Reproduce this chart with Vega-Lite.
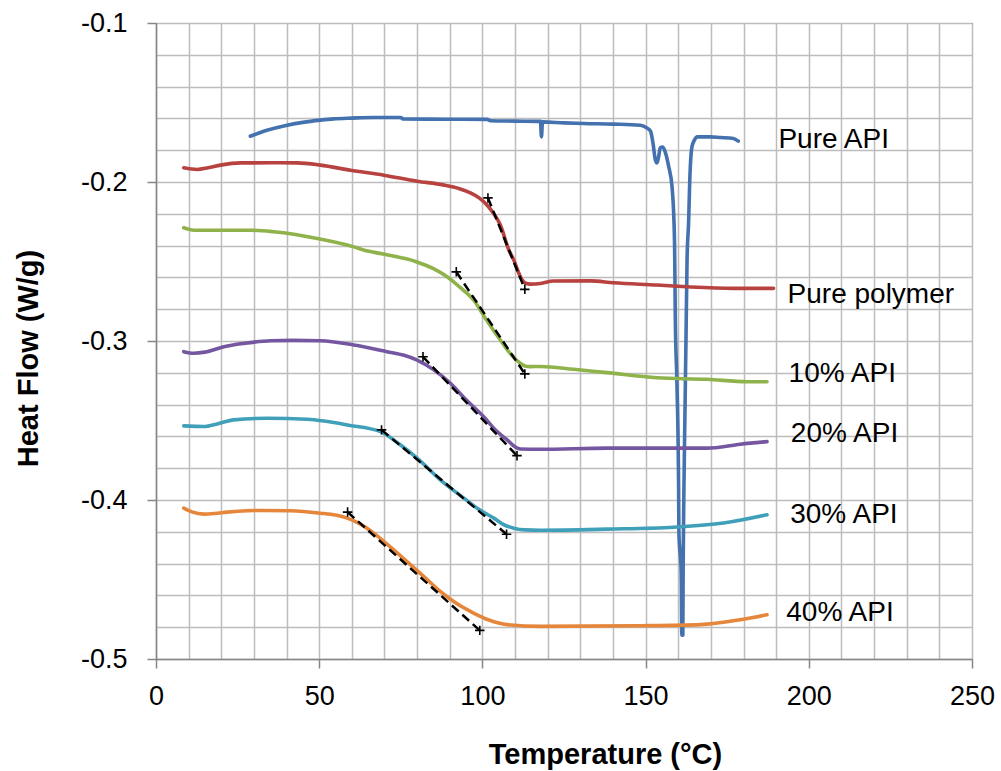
{
  "$schema": "https://vega.github.io/schema/vega-lite/v6.json",
  "autosize": {"type": "none"},
  "padding": {"left": 156, "top": 23, "right": 29, "bottom": 112},
  "width": 816,
  "height": 636,
  "background": "white",
  "config": {
    "font": "Liberation Sans",
    "view": {"stroke": "#000000", "strokeWidth": 1}
  },
  "datasets": {
    "curves": [
      {"series":"Pure API","temp":28.9,"flow":-0.1712},{"series":"Pure API","temp":34,"flow":-0.1675},{"series":"Pure API","temp":40.2,"flow":-0.1643},{"series":"Pure API","temp":45,"flow":-0.1625},{"series":"Pure API","temp":50.4,"flow":-0.1611},{"series":"Pure API","temp":54.4,"flow":-0.1603},{"series":"Pure API","temp":60,"flow":-0.1598},{"series":"Pure API","temp":66.6,"flow":-0.1594},{"series":"Pure API","temp":74.9,"flow":-0.1594},{"series":"Pure API","temp":75.8,"flow":-0.1604},{"series":"Pure API","temp":90,"flow":-0.1605},{"series":"Pure API","temp":101.5,"flow":-0.1606},{"series":"Pure API","temp":102.4,"flow":-0.1615},{"series":"Pure API","temp":110,"flow":-0.1617},{"series":"Pure API","temp":117.8,"flow":-0.1619},{"series":"Pure API","temp":118.1,"flow":-0.1716},{"series":"Pure API","temp":118.4,"flow":-0.1622},{"series":"Pure API","temp":125,"flow":-0.1628},{"series":"Pure API","temp":131.1,"flow":-0.1632},{"series":"Pure API","temp":140,"flow":-0.1636},{"series":"Pure API","temp":148.4,"flow":-0.1643},{"series":"Pure API","temp":150.4,"flow":-0.166},{"series":"Pure API","temp":151.5,"flow":-0.168},{"series":"Pure API","temp":152.3,"flow":-0.176},{"series":"Pure API","temp":153.0,"flow":-0.1862},{"series":"Pure API","temp":153.5,"flow":-0.188},{"series":"Pure API","temp":154.0,"flow":-0.184},{"series":"Pure API","temp":154.5,"flow":-0.1785},{"series":"Pure API","temp":155.2,"flow":-0.178},{"series":"Pure API","temp":156.0,"flow":-0.181},{"series":"Pure API","temp":157.1,"flow":-0.1905},{"series":"Pure API","temp":158.1,"flow":-0.203},{"series":"Pure API","temp":158.6,"flow":-0.2198},{"series":"Pure API","temp":158.9,"flow":-0.2428},{"series":"Pure API","temp":159.1,"flow":-0.2847},{"series":"Pure API","temp":159.6,"flow":-0.3266},{"series":"Pure API","temp":160.1,"flow":-0.3894},{"series":"Pure API","temp":160.2,"flow":-0.42},{"series":"Pure API","temp":160.9,"flow":-0.445},{"series":"Pure API","temp":161.1,"flow":-0.485},{"series":"Pure API","temp":161.4,"flow":-0.485},{"series":"Pure API","temp":161.5,"flow":-0.445},{"series":"Pure API","temp":161.7,"flow":-0.40},{"series":"Pure API","temp":161.9,"flow":-0.3684},{"series":"Pure API","temp":162.4,"flow":-0.295},{"series":"Pure API","temp":162.7,"flow":-0.2491},{"series":"Pure API","temp":163.2,"flow":-0.224},{"series":"Pure API","temp":163.5,"flow":-0.2009},{"series":"Pure API","temp":164.2,"flow":-0.1779},{"series":"Pure API","temp":165.0,"flow":-0.1735},{"series":"Pure API","temp":165.8,"flow":-0.1716},{"series":"Pure API","temp":169.8,"flow":-0.1716},{"series":"Pure API","temp":172.9,"flow":-0.172},{"series":"Pure API","temp":176.9,"flow":-0.1726},{"series":"Pure API","temp":178.4,"flow":-0.1743},
      {"series":"Pure polymer","temp":8.5,"flow":-0.1911},{"series":"Pure polymer","temp":12.6,"flow":-0.1921},{"series":"Pure polymer","temp":16,"flow":-0.191},{"series":"Pure polymer","temp":19.8,"flow":-0.1894},{"series":"Pure polymer","temp":25.9,"flow":-0.188},{"series":"Pure polymer","temp":35,"flow":-0.1879},{"series":"Pure polymer","temp":43.2,"flow":-0.188},{"series":"Pure polymer","temp":50.4,"flow":-0.1894},{"series":"Pure polymer","temp":59.6,"flow":-0.1926},{"series":"Pure polymer","temp":69.8,"flow":-0.1957},{"series":"Pure polymer","temp":80.0,"flow":-0.1995},{"series":"Pure polymer","temp":88,"flow":-0.2018},{"series":"Pure polymer","temp":93,"flow":-0.2042},{"series":"Pure polymer","temp":96.3,"flow":-0.2068},{"series":"Pure polymer","temp":99,"flow":-0.21},{"series":"Pure polymer","temp":101.4,"flow":-0.2145},{"series":"Pure polymer","temp":103.5,"flow":-0.22},{"series":"Pure polymer","temp":105.5,"flow":-0.227},{"series":"Pure polymer","temp":108.1,"flow":-0.2428},{"series":"Pure polymer","temp":109.6,"flow":-0.249},{"series":"Pure polymer","temp":111,"flow":-0.2565},{"series":"Pure polymer","temp":112.2,"flow":-0.2617},{"series":"Pure polymer","temp":113.3,"flow":-0.2637},{"series":"Pure polymer","temp":114.7,"flow":-0.2642},{"series":"Pure polymer","temp":117.8,"flow":-0.2638},{"series":"Pure polymer","temp":121.8,"flow":-0.2623},{"series":"Pure polymer","temp":133.1,"flow":-0.2622},{"series":"Pure polymer","temp":140.1,"flow":-0.2634},{"series":"Pure polymer","temp":153.5,"flow":-0.2648},{"series":"Pure polymer","temp":162.7,"flow":-0.2659},{"series":"Pure polymer","temp":177.0,"flow":-0.2669},{"series":"Pure polymer","temp":189.2,"flow":-0.2669},
      {"series":"10% API","temp":8.5,"flow":-0.2288},{"series":"10% API","temp":11.6,"flow":-0.2303},{"series":"10% API","temp":20,"flow":-0.2303},{"series":"10% API","temp":28.9,"flow":-0.2303},{"series":"10% API","temp":36.1,"flow":-0.2313},{"series":"10% API","temp":49.4,"flow":-0.2355},{"series":"10% API","temp":60.6,"flow":-0.2408},{"series":"10% API","temp":63.6,"flow":-0.2428},{"series":"10% API","temp":70,"flow":-0.2455},{"series":"10% API","temp":79.5,"flow":-0.25},{"series":"10% API","temp":85,"flow":-0.2545},{"series":"10% API","temp":89.2,"flow":-0.2596},{"series":"10% API","temp":93,"flow":-0.266},{"series":"10% API","temp":97.3,"flow":-0.2742},{"series":"10% API","temp":101,"flow":-0.286},{"series":"10% API","temp":105.5,"flow":-0.2994},{"series":"10% API","temp":109,"flow":-0.309},{"series":"10% API","temp":111.6,"flow":-0.314},{"series":"10% API","temp":113,"flow":-0.3157},{"series":"10% API","temp":114.7,"flow":-0.3161},{"series":"10% API","temp":117.8,"flow":-0.316},{"series":"10% API","temp":128.0,"flow":-0.3178},{"series":"10% API","temp":138.2,"flow":-0.3199},{"series":"10% API","temp":153.5,"flow":-0.3231},{"series":"10% API","temp":168.8,"flow":-0.3241},{"series":"10% API","temp":181.1,"flow":-0.3256},{"series":"10% API","temp":187.2,"flow":-0.3256},
      {"series":"20% API","temp":8.5,"flow":-0.3067},{"series":"20% API","temp":11.6,"flow":-0.3077},{"series":"20% API","temp":15,"flow":-0.307},{"series":"20% API","temp":20.8,"flow":-0.3036},{"series":"20% API","temp":27,"flow":-0.3015},{"series":"20% API","temp":35.1,"flow":-0.2998},{"series":"20% API","temp":42,"flow":-0.2996},{"series":"20% API","temp":50.4,"flow":-0.2998},{"series":"20% API","temp":60.6,"flow":-0.3025},{"series":"20% API","temp":70.8,"flow":-0.3067},{"series":"20% API","temp":76,"flow":-0.309},{"series":"20% API","temp":80.0,"flow":-0.312},{"series":"20% API","temp":85,"flow":-0.318},{"series":"20% API","temp":90.2,"flow":-0.3266},{"series":"20% API","temp":95,"flow":-0.337},{"series":"20% API","temp":100.4,"flow":-0.3476},{"series":"20% API","temp":104,"flow":-0.356},{"series":"20% API","temp":107.6,"flow":-0.3622},{"series":"20% API","temp":110,"flow":-0.3665},{"series":"20% API","temp":111.6,"flow":-0.3679},{"series":"20% API","temp":117.8,"flow":-0.3681},{"series":"20% API","temp":138.2,"flow":-0.3674},{"series":"20% API","temp":168.8,"flow":-0.3674},{"series":"20% API","temp":179.0,"flow":-0.3649},{"series":"20% API","temp":187.2,"flow":-0.3633},
      {"series":"30% API","temp":8.5,"flow":-0.3534},{"series":"30% API","temp":14.6,"flow":-0.3538},{"series":"30% API","temp":19,"flow":-0.352},{"series":"30% API","temp":23.8,"flow":-0.3496},{"series":"30% API","temp":34.1,"flow":-0.3486},{"series":"30% API","temp":46.3,"flow":-0.3492},{"series":"30% API","temp":52,"flow":-0.3505},{"series":"30% API","temp":58.6,"flow":-0.3528},{"series":"30% API","temp":68.8,"flow":-0.357},{"series":"30% API","temp":74,"flow":-0.364},{"series":"30% API","temp":80.0,"flow":-0.3737},{"series":"30% API","temp":87.1,"flow":-0.3873},{"series":"30% API","temp":94.3,"flow":-0.3988},{"series":"30% API","temp":99,"flow":-0.406},{"series":"30% API","temp":103.5,"flow":-0.4114},{"series":"30% API","temp":106.5,"flow":-0.4155},{"series":"30% API","temp":109.6,"flow":-0.4177},{"series":"30% API","temp":113,"flow":-0.4188},{"series":"30% API","temp":117.8,"flow":-0.419},{"series":"30% API","temp":138.2,"flow":-0.4183},{"series":"30% API","temp":158.6,"flow":-0.4171},{"series":"30% API","temp":173.9,"flow":-0.4145},{"series":"30% API","temp":187.2,"flow":-0.4093},
      {"series":"40% API","temp":8.5,"flow":-0.4051},{"series":"40% API","temp":11,"flow":-0.4075},{"series":"40% API","temp":14.6,"flow":-0.4089},{"series":"40% API","temp":18,"flow":-0.4085},{"series":"40% API","temp":21.8,"flow":-0.4076},{"series":"40% API","temp":30.0,"flow":-0.4066},{"series":"40% API","temp":41.2,"flow":-0.4068},{"series":"40% API","temp":50.4,"flow":-0.4083},{"series":"40% API","temp":55,"flow":-0.4095},{"series":"40% API","temp":58.6,"flow":-0.4114},{"series":"40% API","temp":62.5,"flow":-0.415},{"series":"40% API","temp":66.7,"flow":-0.4208},{"series":"40% API","temp":71.5,"flow":-0.429},{"series":"40% API","temp":76.9,"flow":-0.4387},{"series":"40% API","temp":82,"flow":-0.448},{"series":"40% API","temp":87.1,"flow":-0.4575},{"series":"40% API","temp":92,"flow":-0.465},{"series":"40% API","temp":97.3,"flow":-0.4711},{"series":"40% API","temp":102,"flow":-0.4755},{"series":"40% API","temp":107.6,"flow":-0.4784},{"series":"40% API","temp":117.8,"flow":-0.4795},{"series":"40% API","temp":148.4,"flow":-0.4791},{"series":"40% API","temp":166.8,"flow":-0.4784},{"series":"40% API","temp":179.0,"flow":-0.4753},{"series":"40% API","temp":187.2,"flow":-0.4722}
    ],
    "tangents": [
      {"series":"Pure polymer","temp":101.7,"flow":-0.21},{"series":"Pure polymer","temp":113.0,"flow":-0.2675},
      {"series":"10% API","temp":92.0,"flow":-0.2565},{"series":"10% API","temp":113.0,"flow":-0.3207},
      {"series":"20% API","temp":81.8,"flow":-0.3099},{"series":"20% API","temp":110.6,"flow":-0.3721},
      {"series":"30% API","temp":69.1,"flow":-0.3559},{"series":"30% API","temp":107.4,"flow":-0.4215},
      {"series":"40% API","temp":58.7,"flow":-0.4076},{"series":"40% API","temp":99.2,"flow":-0.482}
    ],
    "labels": [
      {"label":"Pure API","temp":190.7,"flow":-0.1788},
      {"label":"Pure polymer","temp":193.5,"flow":-0.2759},
      {"label":"10% API","temp":193.8,"flow":-0.3259},
      {"label":"20% API","temp":194.5,"flow":-0.3633},
      {"label":"30% API","temp":194.3,"flow":-0.4142},
      {"label":"40% API","temp":193.1,"flow":-0.4764}
    ]
  },
  "encoding": {
    "x": {
      "field": "temp", "type": "quantitative",
      "scale": {"domain": [0, 250], "nice": false, "zero": false},
      "axis": {
        "values": [0,10,20,30,40,50,60,70,80,90,100,110,120,130,140,150,160,170,180,190,200,210,220,230,240,250],
        "grid": true, "gridColor": "#BDBDBD", "gridWidth": 1.5,
        "domainColor": "#868686", "domainWidth": 1.5,
        "tickColor": "#868686", "tickWidth": 1.5, "tickSize": 9,
        "tickOpacity": {"condition": {"test": "datum.value % 50 === 0", "value": 1}, "value": 0},
        "labelExpr": "datum.value % 50 === 0 ? datum.label : ''",
        "labelFontSize": 27, "labelColor": "#000000", "labelPadding": 15,
        "labelFlush": false, "labelOverlap": false, "labelBound": false,
        "title": "Temperature (°C)", "titleFontSize": 29, "titleFontWeight": "bold", "titleColor": "#000000",
        "titleX": 449, "titleY": 104, "titleAlign": "center", "titleBaseline": "alphabetic"
      }
    },
    "y": {
      "field": "flow", "type": "quantitative",
      "scale": {"domain": [-0.5, -0.1], "nice": false, "zero": false},
      "axis": {
        "values": [-0.5,-0.48,-0.46,-0.44,-0.42,-0.4,-0.38,-0.36,-0.34,-0.32,-0.3,-0.28,-0.26,-0.24,-0.22,-0.2,-0.18,-0.16,-0.14,-0.12,-0.1],
        "grid": true, "gridColor": "#BDBDBD", "gridWidth": 1.5,
        "domainColor": "#868686", "domainWidth": 1.5,
        "tickColor": "#868686", "tickWidth": 1.5, "tickSize": 9,
        "tickOpacity": {"condition": {"test": "abs(round(datum.value*100)) % 10 === 0", "value": 1}, "value": 0},
        "labelExpr": "abs(round(datum.value*100)) % 10 === 0 ? '-0.' + abs(round(datum.value*10)) : ''",
        "labelFontSize": 27, "labelColor": "#000000", "labelPadding": 20,
        "labelOverlap": false, "labelBound": false, "labelFlush": false,
        "title": "Heat Flow (W/g)", "titleFontSize": 29, "titleFontWeight": "bold", "titleColor": "#000000",
        "titleAngle": -90, "titleX": -119, "titleY": 335, "titleAlign": "center", "titleBaseline": "alphabetic"
      }
    }
  },
  "layer": [
    {
      "data": {"name": "curves"},
      "mark": {"type": "line", "strokeWidth": 3.6, "strokeCap": "round", "strokeJoin": "round", "interpolate": "monotone"},
      "encoding": {
        "color": {
          "field": "series", "type": "nominal", "legend": null,
          "scale": {
            "domain": ["Pure API","Pure polymer","10% API","20% API","30% API","40% API"],
            "range": ["#4372AE","#B8423F","#8FB24B","#7457A0","#41A0B9","#E6863A"]
          }
        }
      }
    },
    {
      "data": {"name": "tangents"},
      "mark": {"type": "line", "color": "#000000", "strokeWidth": 2.5, "strokeDash": [9, 5]},
      "encoding": {"detail": {"field": "series", "type": "nominal"}}
    },
    {
      "data": {"name": "tangents"},
      "mark": {"type": "point", "shape": "M-1,0H1M0,-1V1", "size": 90, "filled": false, "stroke": "#000000", "strokeWidth": 1.6, "opacity": 1}
    },
    {
      "data": {"name": "labels"},
      "mark": {"type": "text", "align": "left", "baseline": "alphabetic", "fontSize": 28, "color": "#000000"},
      "encoding": {"text": {"field": "label", "type": "nominal"}}
    }
  ]
}
